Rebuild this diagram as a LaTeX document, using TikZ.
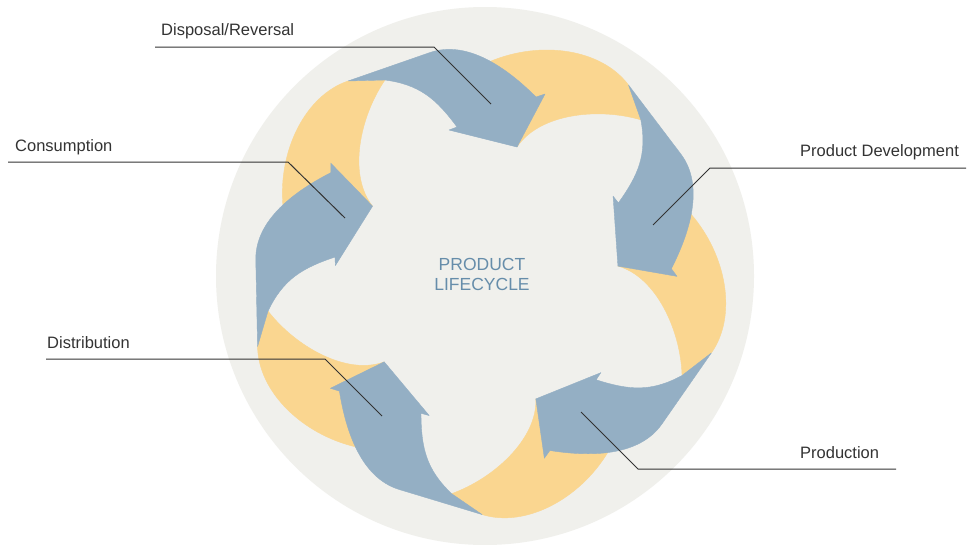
\documentclass[tikz,border=0pt]{standalone}
\usepackage{fontspec}
\setmainfont{Liberation Sans}
\definecolor{bluec}{HTML}{94AFC4}
\definecolor{yellowc}{HTML}{FAD690}
\definecolor{circc}{HTML}{F0F0EC}
\definecolor{titlec}{HTML}{668DAA}
\definecolor{textc}{HTML}{333333}
\definecolor{leadc}{HTML}{333333}
\begin{document}
\begin{tikzpicture}[x=1pt,y=-1pt,
  bluepart/.style={fill=bluec,draw=bluec,line width=0.4pt,line join=round},
  yellowpart/.style={fill=yellowc,draw=yellowc,line width=0.4pt,line join=round},
  lbl/.style={anchor=base west,inner sep=0pt,text=textc,font=\fontsize{16.5}{19}\selectfont},
  ttl/.style={anchor=base,inner sep=0pt,text=titlec,font=\fontsize{17.5}{20}\selectfont},
  leader/.style={draw=leadc,line width=1pt}]
\useasboundingbox (0,0) rectangle (968,544);
\fill[white] (0,0) rectangle (968,544);
\fill[circc] (485,276) circle (269);
% yellow parts
\foreach \i in {0,...,4}{
  \begin{scope}[rotate around={-72*\i:(485.5,276)}]
    \path[yellowpart] (517,147) -- (485,68) -- (490,61.5)
      .. controls (540.9,40.1) and (601.4,48.9) .. (628.4,84.9)
      -- (640.8,119.8)
      .. controls (597.6,107.2) and (539,113.8) .. (517,147) -- cycle;
  \end{scope}
}
% blue arrows
\foreach \i in {0,...,4}{
  \begin{scope}[rotate around={-72*\i:(485.5,276)}]
    \path[bluepart] (348,81) -- (430,52.5)
      .. controls (467.8,39.6) and (507.7,68.7) .. (536,97)
      -- (545,94) -- (517,147) -- (449,130) -- (457,127)
      .. controls (436.4,99) and (419.7,84.6) .. (385,80) -- cycle;
  \end{scope}
}
% title
\node[ttl] (t1) at (482,270.7) {PRODUCT};
\node[ttl] (t2) at (482,290.7) {LIFECYCLE};
% labels and leaders
\node[lbl] (disp) at (161,35) {Disposal/Reversal};
\coordinate (dispL) at (155,47);
\coordinate (dispB) at (434,47);
\coordinate (dispE) at (491,104);
\draw[leader] (dispL) -- (dispB) -- (dispE);

\node[lbl] (cons) at (15,151.5) {Consumption};
\coordinate (consL) at (8,162);
\coordinate (consB) at (288,162);
\coordinate (consE) at (345,218);
\draw[leader] (consL) -- (consB) -- (consE);

\node[lbl] (pdev) at (800,156.5) {Product Development};
\coordinate (pdevR) at (966,168);
\coordinate (pdevB) at (710,168);
\coordinate (pdevE) at (653,225);
\draw[leader] (pdevR) -- (pdevB) -- (pdevE);

\node[lbl] (prod) at (800,458) {Production};
\coordinate (prodR) at (896,469);
\coordinate (prodB) at (638,469);
\coordinate (prodE) at (581,412);
\draw[leader] (prodR) -- (prodB) -- (prodE);

\node[lbl] (dist) at (47,348) {Distribution};
\coordinate (distL) at (46,359);
\coordinate (distB) at (325,359);
\coordinate (distE) at (382,416);
\draw[leader] (distL) -- (distB) -- (distE);
\end{tikzpicture}
\end{document}
